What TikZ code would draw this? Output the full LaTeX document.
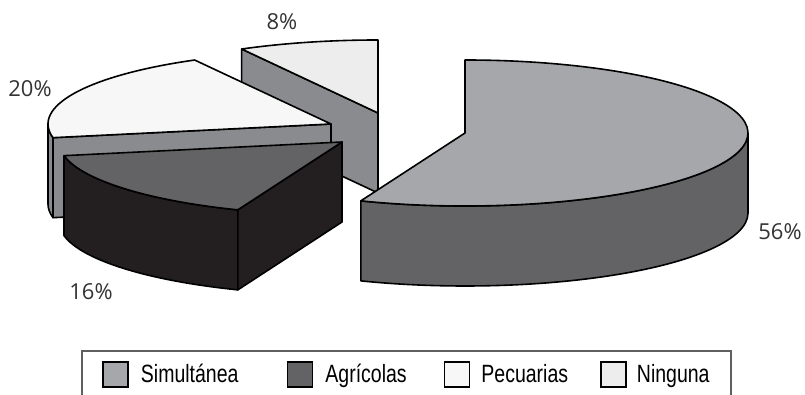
\documentclass[tikz,border=0pt]{standalone}
\usepackage{fontspec}
\usetikzlibrary{positioning}
\newfontfamily\legendfont[FakeStretch=0.78]{Liberation Sans}
\newfontfamily\pctfont{Open Sans}
\definecolor{msimul}{HTML}{A6A7AA}
\definecolor{msimulside}{HTML}{636366}
\definecolor{magri}{HTML}{636366}
\definecolor{magriside}{HTML}{231F20}
\definecolor{mpecu}{HTML}{F7F7F7}
\definecolor{mside}{HTML}{8A8B8E}
\definecolor{mning}{HTML}{EDEDED}
\definecolor{mframe}{HTML}{5F5F5F}
\newcommand{\piexr}{283 }
\newcommand{\pieyr}{73}
\tikzstyle{slice} = [draw=black, line width=1.6pt, line join=round]
\tikzstyle{swatch} = [rectangle, draw=black, line width=1.5pt, minimum size=25pt, inner sep=0pt]
\tikzstyle{entry} = [inner sep=0pt, text height=17pt, text depth=0pt, font=\legendfont\fontsize{25}{25}\selectfont]
\tikzstyle{pct} = [inner sep=0pt, text=black!80, font=\pctfont\fontsize{22}{22}\selectfont]
\begin{document}
\begin{tikzpicture}[x=1pt, y=1pt]
  \useasboundingbox (0,0) rectangle (805,395);
  \coordinate (cning) at (378,282);
  \coordinate (cpecu) at (331,271);
  \coordinate (cagri) at (342,253);
  \coordinate (csimul) at (465,262);
  % Ninguna 8%
  \filldraw [slice, fill=mside] (cning) -- ++(118.8:\piexr and \pieyr) -- ++(0,-80) -- ([yshift=-80pt]cning) -- cycle;
  \filldraw [slice, fill=mning] (cning) -- ++(118.8:\piexr and \pieyr) arc[start angle=118.8, end angle=90, x radius=\piexr, y radius=\pieyr] -- cycle;
  \draw [slice] (cning) ++(0,\pieyr) -- ++(0,-153);
  % Pecuarias 20%
  \filldraw [slice, fill=mside] (cpecu) ++(180:\piexr and \pieyr) arc[start angle=180, end angle=190.8, x radius=\piexr, y radius=\pieyr] -- ++(0,-80) arc[start angle=190.8, end angle=180, x radius=\piexr, y radius=\pieyr] -- cycle;
  \filldraw [slice, fill=mside] (cpecu) -- ++(190.8:\piexr and \pieyr) -- ++(0,-80) -- ([yshift=-80pt]cpecu) -- cycle;
  \filldraw [slice, fill=mpecu] (cpecu) -- ++(190.8:\piexr and \pieyr) arc[start angle=190.8, end angle=118.8, x radius=\piexr, y radius=\pieyr] -- cycle;
  % Agricolas 16%
  \filldraw [slice, fill=magriside] (cagri) ++(190.8:\piexr and \pieyr) arc[start angle=190.8, end angle=248.4, x radius=\piexr, y radius=\pieyr] -- ++(0,-80) arc[start angle=248.4, end angle=190.8, x radius=\piexr, y radius=\pieyr] -- cycle;
  \filldraw [slice, fill=magriside] (cagri) -- ++(248.4:\piexr and \pieyr) -- ++(0,-80) -- ([yshift=-80pt]cagri) -- cycle;
  \filldraw [slice, fill=magri] (cagri) -- ++(248.4:\piexr and \pieyr) arc[start angle=248.4, end angle=190.8, x radius=\piexr, y radius=\pieyr] -- cycle;
  % Simultanea 56%
  \filldraw [slice, fill=msimulside] (csimul) ++(248.4:\piexr and \pieyr) arc[start angle=248.4, end angle=360, x radius=\piexr, y radius=\pieyr] -- ++(0,-80) arc[start angle=360, end angle=248.4, x radius=\piexr, y radius=\pieyr] -- cycle;
  \filldraw [slice, fill=msimul] (csimul) -- ++(248.4:\piexr and \pieyr) arc[start angle=248.4, end angle=450, x radius=\piexr, y radius=\pieyr] -- cycle;
  % labels
  \node (p56) [pct] at (780,163) {56\%};
  \node (p20) [pct] at (30,306) {20\%};
  \node (p8) [pct] at (282,373) {8\%};
  \node (p16) [pct] at (91,103) {16\%};
  % legend
  \draw [mframe, line width=1.2pt] (82,-2) -- (82,44) -- (731,44) -- (731,-2);
  \node (ksimul) [swatch, fill=msimul] at (115.5,20.5) {};
  \node (tsimul) [entry, right=12pt of ksimul] {Simultánea};
  \node (kagri) [swatch, fill=magri] at (300,20.5) {};
  \node (tagri) [entry, right=12pt of kagri] {Agrícolas};
  \node (kpecu) [swatch, fill=mpecu] at (457,20.5) {};
  \node (tpecu) [entry, right=11pt of kpecu] {Pecuarias};
  \node (kning) [swatch, fill=mning] at (613.5,20.5) {};
  \node (tning) [entry, right=10pt of kning] {Ninguna};
\end{tikzpicture}
\end{document}
